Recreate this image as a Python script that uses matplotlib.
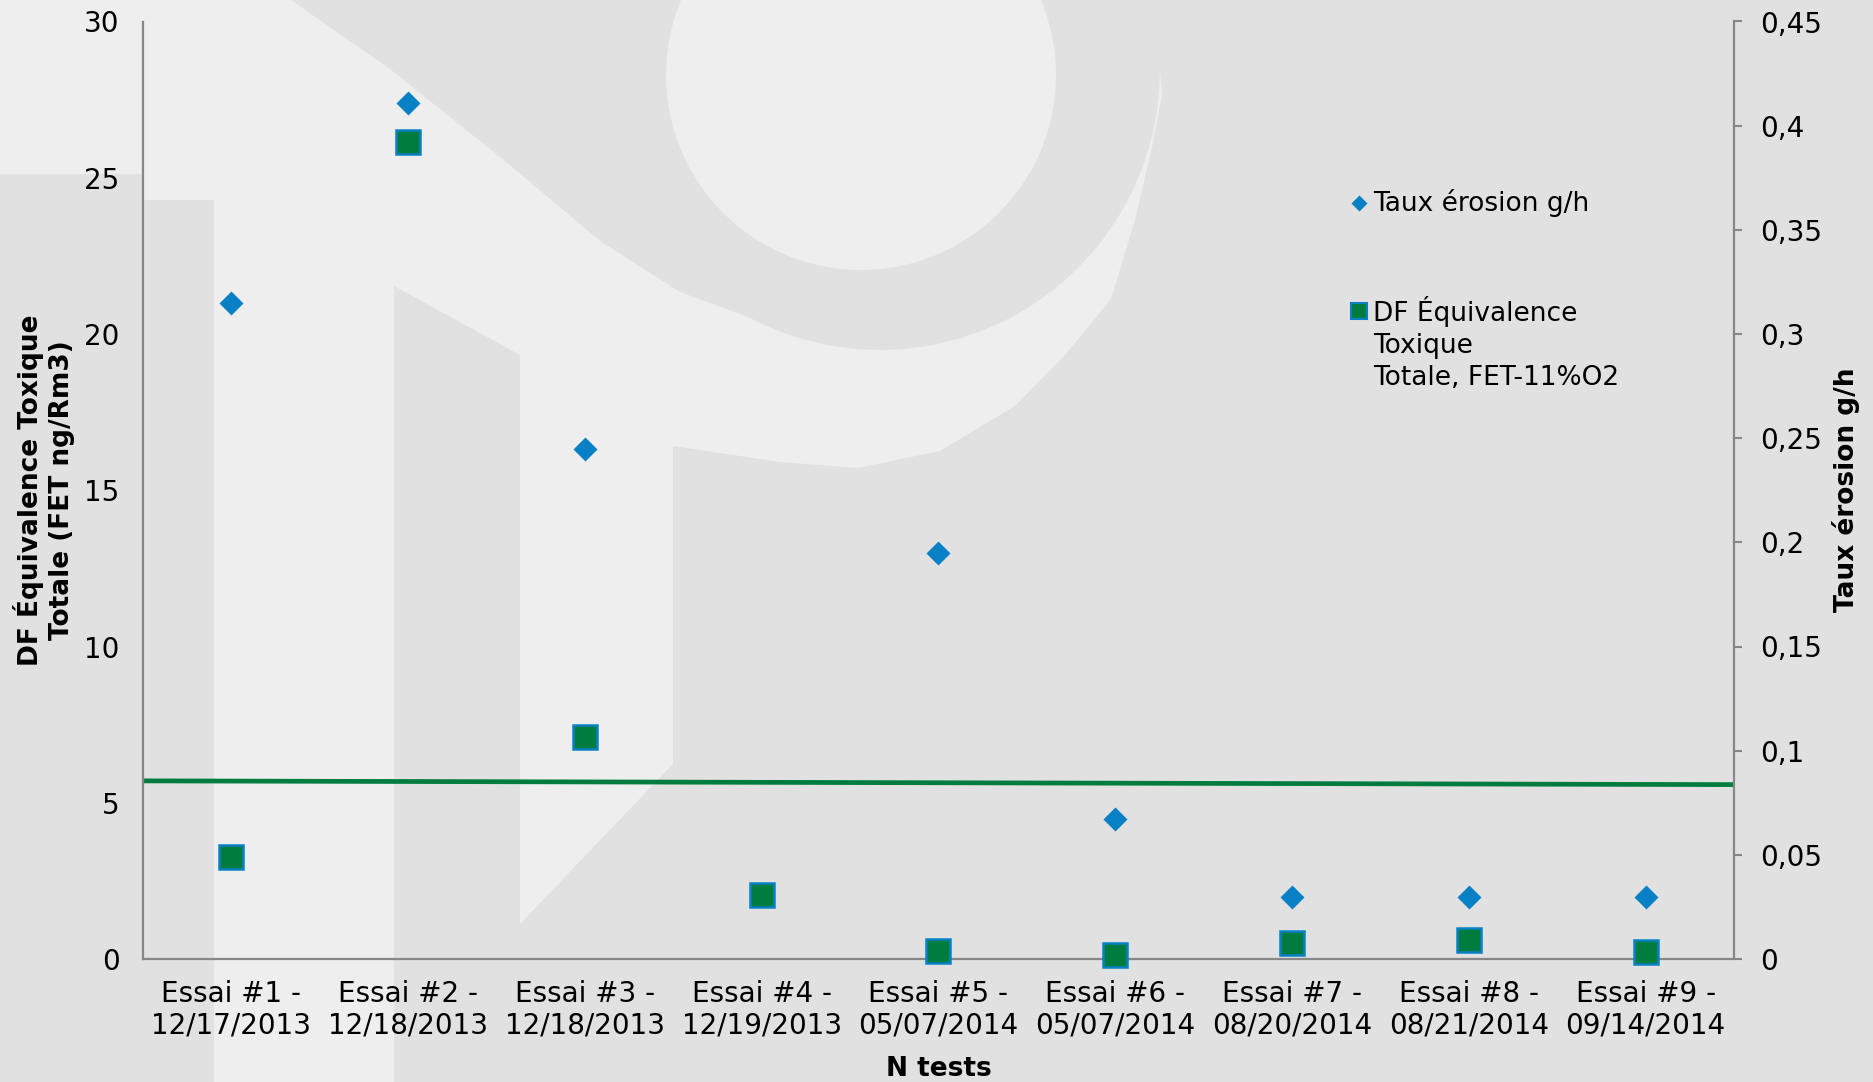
import numpy as np
import matplotlib
matplotlib.use("Agg")
import matplotlib.pyplot as plt
from matplotlib.patches import Polygon, Ellipse
from matplotlib.ticker import FuncFormatter

# ---- data ----
essais = ["Essai #1 -\n12/17/2013", "Essai #2 -\n12/18/2013", "Essai #3 -\n12/18/2013",
          "Essai #4 -\n12/19/2013", "Essai #5 -\n05/07/2014", "Essai #6 -\n05/07/2014",
          "Essai #7 -\n08/20/2014", "Essai #8 -\n08/21/2014", "Essai #9 -\n09/14/2014"]
df_fet = [3.25, 26.15, 7.1, 2.05, 0.27, 0.12, 0.5, 0.6, 0.23]          # left axis
taux_erosion = [0.315, 0.411, 0.245, np.nan, 0.195, 0.067, 0.03, 0.03, 0.03]  # right axis
ligne_fet = [5.70, 5.58]   # green line, value at left and right edge of the plot

blue = "#0780c5"
green = "#007c3e"
axis_gray = "#878787"
W, H = 1873, 1082

plt.rcParams["font.family"] = ["DejaVu Sans"]

fig = plt.figure(figsize=(W / 100, H / 100), dpi=100)
fig.patch.set_facecolor("#e1e1e1")

# ---- faint watermark in the background (pixel outline, y from top) ----
def to_fig(pts):
    return [(x / W, 1 - y / H) for x, y in pts]

phi = np.radians(np.linspace(-28, 90, 30))
arc = list(zip(880 + 280 * np.sin(phi), 70 + 280 * np.cos(phi)))
outline = ([(0, 0), (291, 0), (390, 69), (510, 165), (600, 241), (680, 292)] + arc +
           [(1162, 95), (1153, 143), (1135, 220), (1111, 299), (1065, 355), (1015, 406),
            (940, 451), (858, 468), (780, 462), (673, 446), (673, 764), (520, 924),
            (520, 355), (394, 286), (394, 1082), (214, 1082), (214, 200), (144, 200),
            (144, 174), (0, 174)])
fig.add_artist(Polygon(to_fig(outline), closed=True, transform=fig.transFigure,
                       facecolor="#eeeeee", edgecolor="none", zorder=-5))
fig.add_artist(Ellipse((861 / W, 1 - 75 / H), 2 * 195 / W, 2 * 195 / H,
                       transform=fig.transFigure, facecolor="#eeeeee",
                       edgecolor="none", zorder=-5))

# ---- axes ----
ax = fig.add_axes([143 / W, 1 - 959 / H, (1734 - 143) / W, (959 - 21.5) / H])
ax.set_facecolor("none")
ax2 = ax.twinx()
ax2.set_facecolor("none")

x = np.arange(len(essais))
ax.plot([-0.5, len(essais) - 0.5], ligne_fet, color=green, lw=3.4, zorder=2)
ax.plot(x, df_fet, ls="none", marker="s", ms=17, mfc=green, mec=blue, mew=1.8,
        zorder=3, clip_on=False)
ax2.plot(x, taux_erosion, ls="none", marker="D", ms=12, mfc=blue, mec="none",
         zorder=3, clip_on=False)

ax.set_xlim(-0.5, len(essais) - 0.5)
ax.set_ylim(0, 30)
ax.set_yticks(np.arange(0, 31, 5))
ax2.set_ylim(0, 0.45)
ax2.set_yticks(np.arange(0, 0.451, 0.05))
ax2.yaxis.set_major_formatter(FuncFormatter(
    lambda v, p: "0" if abs(v) < 1e-9 else ("%.2f" % v).rstrip("0").replace(".", ",")))

ax.set_xticks(x)
ax.set_xticklabels(essais, fontsize=20, linespacing=1.15)
ax.tick_params(axis="x", length=0, pad=15)
ax.tick_params(axis="y", length=0, pad=17, labelsize=20)
ax2.tick_params(axis="y", direction="out", length=6, width=1.5, color=axis_gray,
                pad=13, labelsize=20)

for s in ["top", "right"]:
    ax.spines[s].set_visible(False)
for s in ["top", "left", "bottom"]:
    ax2.spines[s].set_visible(False)
for sp in [ax.spines["left"], ax.spines["bottom"], ax2.spines["right"]]:
    sp.set_color(axis_gray)
    sp.set_linewidth(1.6)

ax.set_xlabel("N tests", fontsize=19, fontweight="bold")
ax.xaxis.set_label_coords(0.5, -0.103)
ax.set_ylabel("DF Équivalence Toxique\nTotale (FET ng/Rm3)", fontsize=19,
              fontweight="bold", linespacing=1.25)
ax.yaxis.set_label_coords(-0.043, 0.5)
ax2.set_ylabel("Taux érosion g/h", fontsize=19, fontweight="bold")
ax2.yaxis.set_label_coords(1.0616, 0.5)

# ---- legend, drawn by hand to match the spacing of the original ----
lx = (1359 - 143) / 1591
tx = (1373 - 143) / 1591
y1 = (959 - 203) / 937.5
y2 = (959 - 311) / 937.5
ax.plot([lx], [y1], transform=ax.transAxes, marker="D", ms=8, mfc=blue,
        mec="none", clip_on=False)
ax.text(tx, y1, "Taux érosion g/h", transform=ax.transAxes, fontsize=19,
        va="center", ha="left")
ax.plot([lx], [y2], transform=ax.transAxes, marker="s", ms=12, mfc=green,
        mec=blue, mew=1.5, clip_on=False)
ax.text(tx, y2 + 15 / 937.5, "DF Équivalence\nToxique\nTotale, FET-11%O2",
        transform=ax.transAxes, fontsize=19, va="top", ha="left", linespacing=1.3)

fig.savefig("out.png", dpi=100, facecolor=fig.get_facecolor())
